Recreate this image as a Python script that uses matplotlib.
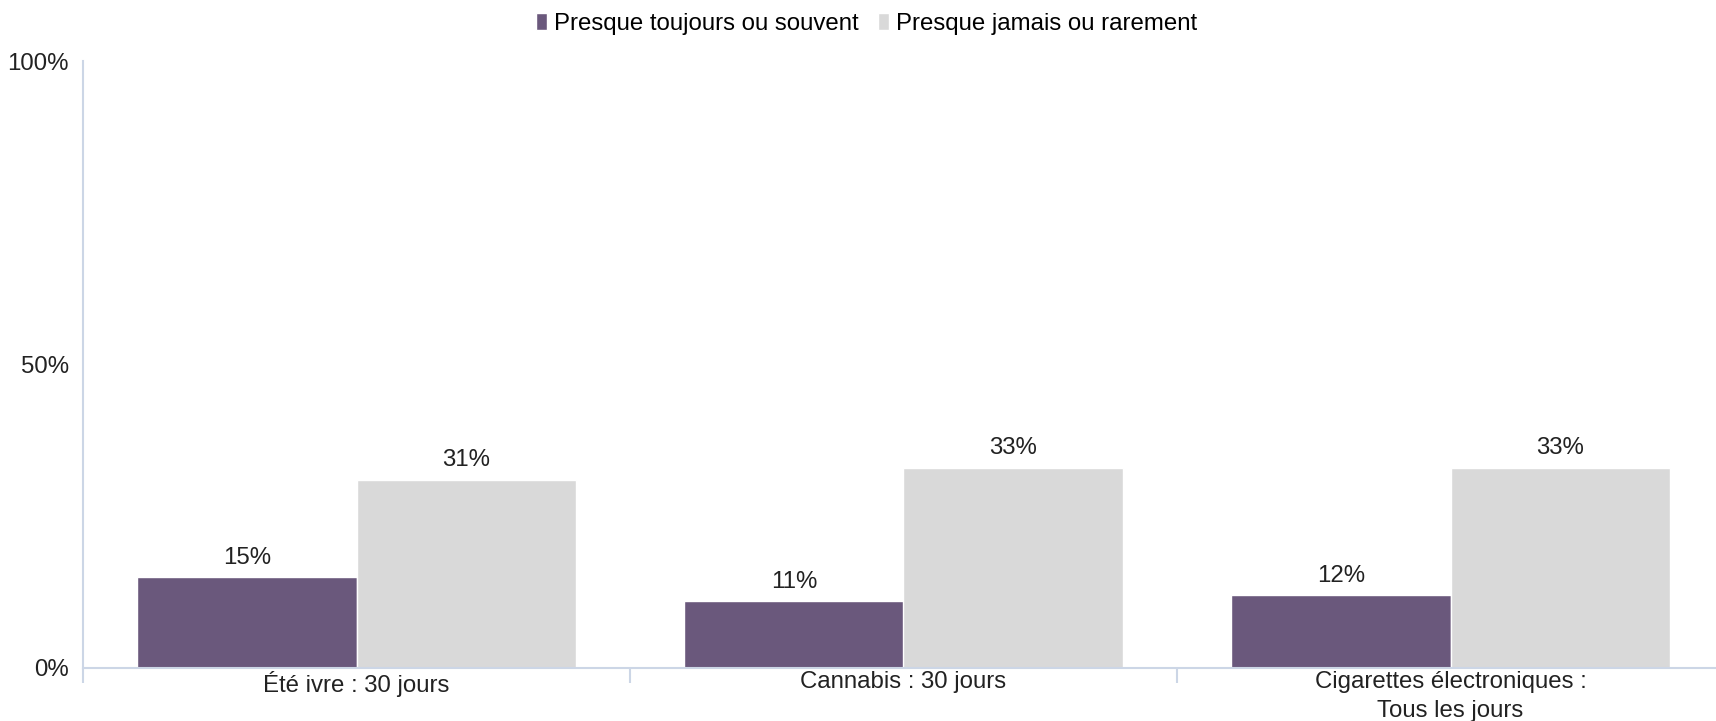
import matplotlib.pyplot as plt
import numpy as np

categories = ['Été ivre : 30 jours', 'Cannabis : 30 jours', 'Cigarettes électroniques :\nTous les jours']
series_names = ['Presque toujours ou souvent', 'Presque jamais ou rarement']
souvent = [15, 11, 12]
rarement = [31, 33, 33]
yticks = [0, 50, 100]

couleurs = ['#6a587c', '#d9d9d9']
axe_col = '#ccd6e6'

plt.rcParams['font.family'] = ['Liberation Sans', 'DejaVu Sans']
fs = 17.3

fig = plt.figure(figsize=(17.16, 7.21), dpi=100)
ax = fig.add_axes([83/1716, 53/721, 1641/1716, 607/721])

x = np.arange(len(categories))
w = 0.401
b1 = ax.bar(x - w/2, souvent, w, color=couleurs[0], edgecolor='white', linewidth=1, label=series_names[0])
b2 = ax.bar(x + w/2, rarement, w, color=couleurs[1], edgecolor='white', linewidth=1, label=series_names[1])

for bars, vals in [(b1, souvent), (b2, rarement)]:
    for r, v in zip(bars, vals):
        ax.annotate(f'{v}%', (r.get_x() + r.get_width()/2, v), xytext=(0, 6),
                    textcoords='offset points', ha='center', va='bottom', fontsize=fs, color='#222222')

ax.set_xlim(-0.5, len(categories) - 0.5)
ax.set_ylim(0, 100)
ax.set_yticks(yticks)
ax.set_yticklabels([f'{t}%' for t in yticks], fontsize=fs, color='#222222')
ax.tick_params(axis='y', length=0, pad=10)

ax.set_xticks(x)
ax.set_xticklabels(categories, fontsize=fs, color='#222222', linespacing=1.4)
ax.set_xticks(np.arange(len(categories) + 1) - 0.5, minor=True)
ax.tick_params(axis='x', which='major', length=0, pad=2)
ax.tick_params(axis='x', which='minor', length=11, width=1.5, color=axe_col)

for s in ['top', 'right']:
    ax.spines[s].set_visible(False)
for s in ['left', 'bottom']:
    ax.spines[s].set_color(axe_col)
    ax.spines[s].set_linewidth(1.5)

fig.legend(loc='upper center', bbox_to_anchor=(0.505, 1.0), ncol=2, frameon=False,
           fontsize=fs, handlelength=0.45, handleheight=0.72, handletextpad=0.3,
           columnspacing=0.8, borderaxespad=0.15)

fig.savefig('out.png', dpi=100)
